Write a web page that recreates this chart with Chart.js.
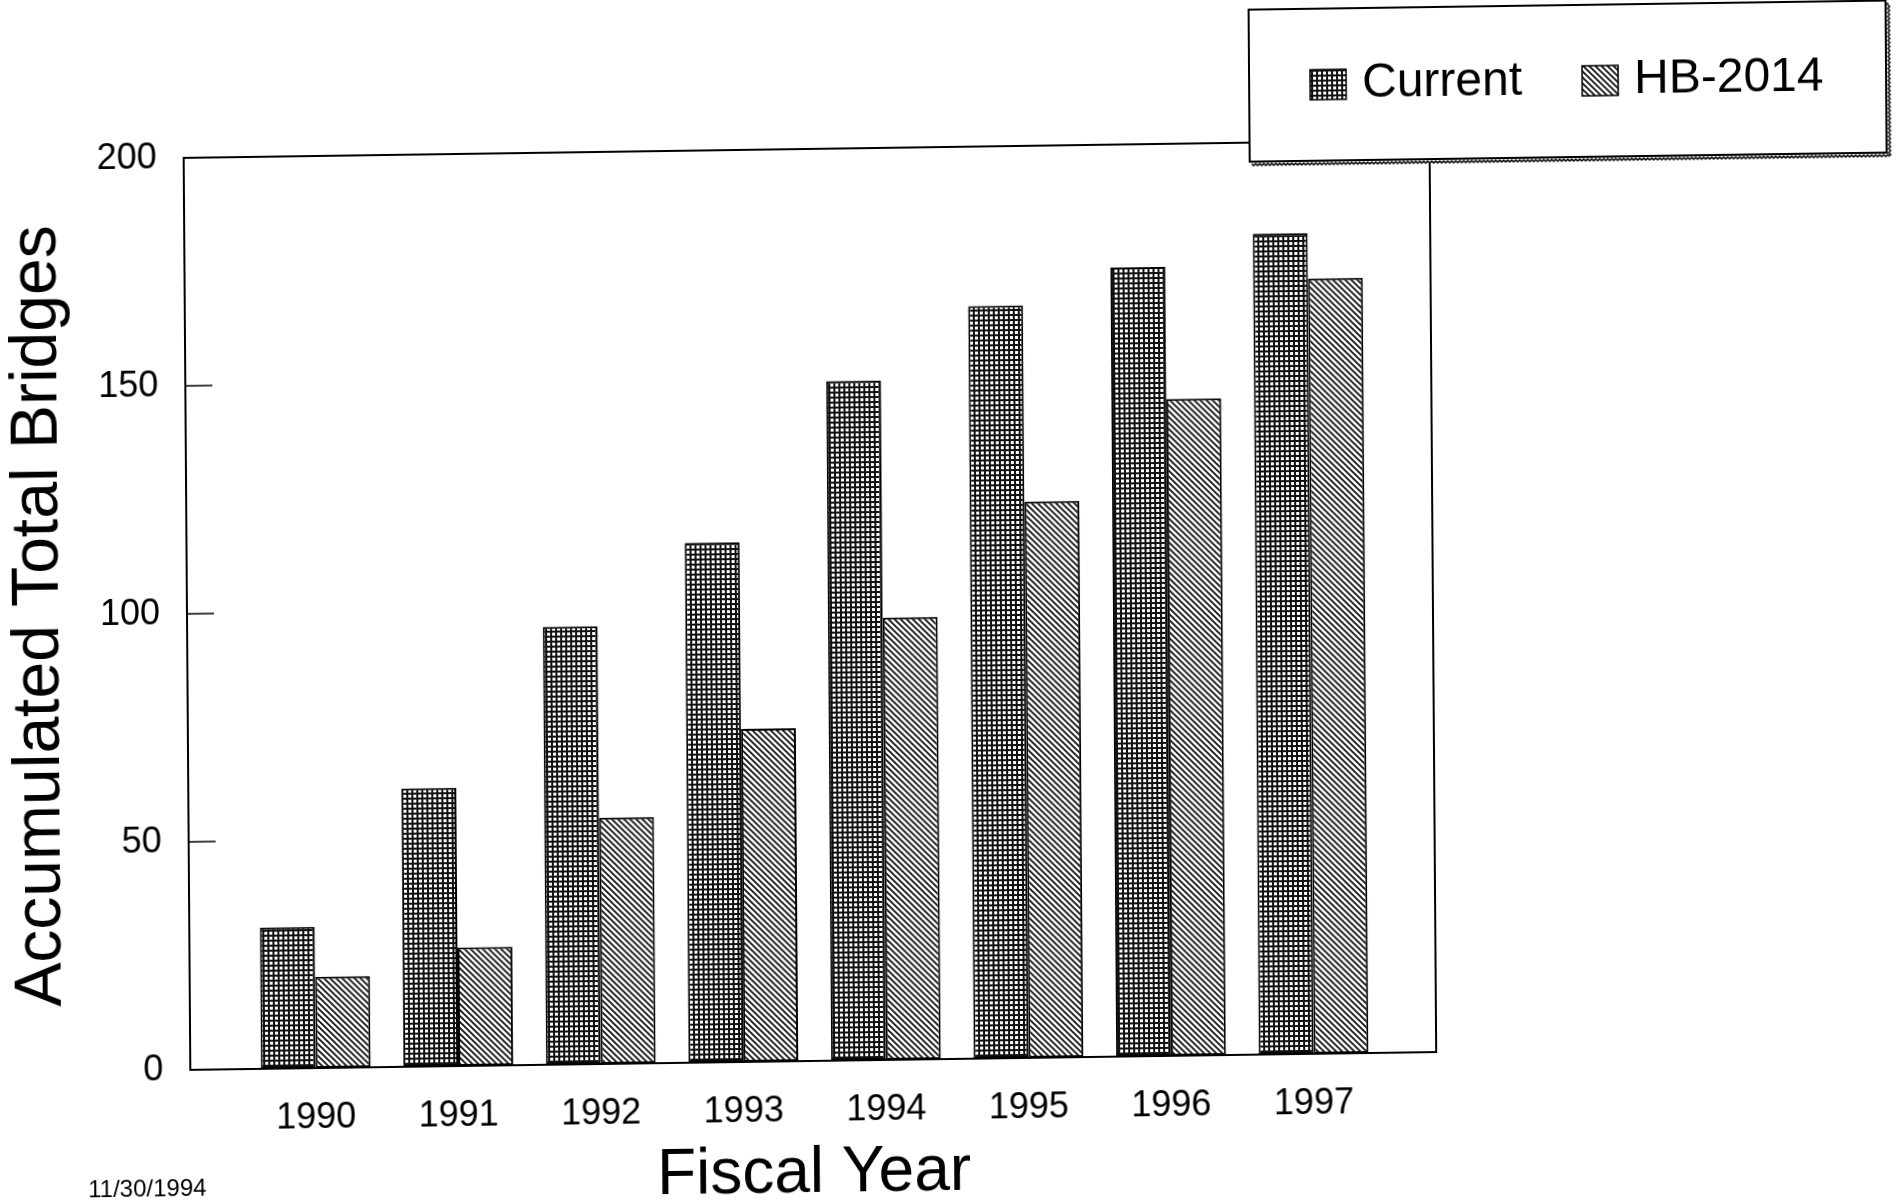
<!DOCTYPE html>
<html>
<head>
<meta charset="utf-8">
<title>Accumulated Total Bridges</title>
<script src="https://cdn.jsdelivr.net/npm/chart.js@4.4.1/dist/chart.umd.min.js"></script>
<style>
  html, body { margin: 0; padding: 0; background: #fff; overflow: hidden; }
  /* the scanned page is slightly skewed, so the whole sheet is too */
  #sheet {
    width: 1898px;
    height: 1204px;
    position: relative;
    transform: matrix(1, -0.0143, 0.0073, 1, 0, 0);
  }
</style>
</head>
<body>
<div id="sheet"><canvas id="chart"></canvas></div>
<script>
const years = ['1990', '1991', '1992', '1993', '1994', '1995', '1996', '1997'];
const current = [31, 61, 96, 114, 149, 165, 173, 180];
const hb2014 = [20, 26, 54, 73, 97, 122, 144, 170];
const yTicks = [0, 50, 100, 150, 200];
const seriesNames = ['Current', 'HB-2014'];
const dateStamp = '11/30/1994';

const FONT = "'Liberation Sans', Arial, Helvetica, sans-serif";
Chart.defaults.font.family = FONT;
Chart.defaults.color = '#000';

const canvas = document.getElementById('chart');
const ctx = canvas.getContext('2d');

// small square grid, like the "Current" fill
function gridPattern() {
  const c = document.createElement('canvas');
  c.width = 5; c.height = 5;
  const g = c.getContext('2d');
  g.fillStyle = '#fff';
  g.fillRect(0, 0, 5, 5);
  g.fillStyle = '#111';
  g.fillRect(0, 0, 5, 2);
  g.fillRect(0, 0, 2, 5);
  return ctx.createPattern(c, 'repeat');
}

// "\" hatching for HB-2014
function hatchPattern() {
  const s = 6;
  const c = document.createElement('canvas');
  c.width = s; c.height = s;
  const g = c.getContext('2d');
  g.fillStyle = '#fff';
  g.fillRect(0, 0, s, s);
  g.strokeStyle = '#111';
  g.lineWidth = 1.8;
  g.beginPath();
  g.moveTo(-1, -1); g.lineTo(s + 1, s + 1);
  g.moveTo(-1, s - 1); g.lineTo(1, s + 1);
  g.moveTo(s - 1, -1); g.lineTo(s + 1, 1);
  g.stroke();
  return ctx.createPattern(c, 'repeat');
}

const fills = [gridPattern(), hatchPattern()];

// plot frame + inward tick marks on the y axis
const framePlugin = {
  id: 'frame',
  afterDatasetsDraw(chart) {
    const { ctx, chartArea: a } = chart;
    const y = chart.scales.y;
    ctx.save();
    ctx.strokeStyle = '#000';
    ctx.lineWidth = 2;
    ctx.strokeRect(a.left, a.top, a.right - a.left, a.bottom - a.top);
    ctx.lineWidth = 1.5;
    ctx.beginPath();
    yTicks.forEach(v => {
      const py = y.getPixelForValue(v);
      ctx.moveTo(a.left, py);
      ctx.lineTo(a.left + 27, py);
    });
    ctx.stroke();
    ctx.restore();
  }
};

// boxed legend at the top right, with the ragged shadow edge, and the date stamp
const legendBox = { left: 1253, top: 14, right: 1890, bottom: 166 };

const legendPlugin = {
  id: 'boxLegend',
  afterDraw(chart) {
    const { ctx } = chart;
    const b = legendBox;
    ctx.save();
    ctx.fillStyle = '#fff';
    ctx.fillRect(b.left, b.top, b.right - b.left, b.bottom - b.top + 4);
    ctx.strokeStyle = '#000';
    ctx.lineWidth = 2;
    ctx.strokeRect(b.left, b.top, b.right - b.left, b.bottom - b.top);

    // zigzag shadow along bottom and right
    ctx.lineWidth = 1.5;
    ctx.beginPath();
    let up = true;
    ctx.moveTo(b.left + 2, b.bottom + 2);
    for (let x = b.left + 4; x <= b.right + 4; x += 2) {
      ctx.lineTo(x, b.bottom + (up ? 4 : 2));
      up = !up;
    }
    ctx.moveTo(b.right + 2, b.top + 2);
    for (let y = b.top + 4; y <= b.bottom + 4; y += 2) {
      ctx.lineTo(b.right + (up ? 4 : 2), y);
      up = !up;
    }
    ctx.stroke();

    ctx.font = '48px ' + FONT;
    ctx.textBaseline = 'middle';
    ctx.textAlign = 'left';
    const cy = 90;
    let x = 1314;
    chart.data.datasets.forEach((ds, i) => {
      ctx.fillStyle = ds.backgroundColor;
      ctx.fillRect(x, cy - 15, 36, 30);
      ctx.lineWidth = 1.5;
      ctx.strokeStyle = '#000';
      ctx.strokeRect(x, cy - 15, 36, 30);
      ctx.fillStyle = '#000';
      ctx.fillText(ds.label, x + 52, cy);
      x += 52 + ctx.measureText(ds.label).width + 60;
    });

    ctx.font = '24px ' + FONT;
    ctx.fillText(dateStamp, 84, 1178);
    ctx.restore();
  }
};

new Chart(canvas, {
  type: 'bar',
  data: {
    datasets: [
      {
        label: seriesNames[0],
        data: current.map((v, i) => ({ x: i, y: v })),
        backgroundColor: fills[0],
        borderColor: '#000',
        borderWidth: 2,
        borderSkipped: false
      },
      {
        label: seriesNames[1],
        data: hb2014.map((v, i) => ({ x: i, y: v })),
        backgroundColor: fills[1],
        borderColor: '#000',
        borderWidth: 2,
        borderSkipped: false
      }
    ]
  },
  options: {
    responsive: true,
    maintainAspectRatio: false,
    animation: false,
    layout: { padding: { top: 147, right: 465, bottom: 0, left: 0 } },
    datasets: { bar: { categoryPercentage: 0.77, barPercentage: 1 } },
    plugins: {
      legend: { display: false },
      tooltip: { enabled: false }
    },
    scales: {
      x: {
        type: 'linear',
        bounds: 'data',
        min: -0.88,
        max: 7.86,
        offset: false,
        grid: { display: false, drawTicks: false },
        border: { display: false },
        afterBuildTicks: s => { s.ticks = years.map((_, i) => ({ value: i })); },
        afterFit: s => { s.height = 145; },
        ticks: {
          autoSkip: false,
          maxRotation: 0,
          padding: 28,
          font: { size: 36 },
          color: '#000',
          callback: v => years[v]
        },
        title: {
          display: true,
          text: 'Fiscal Year',
          color: '#000',
          font: { size: 64, lineHeight: 1 },
          padding: { top: 0, bottom: 0 }
        }
      },
      y: {
        min: 0,
        max: 200,
        grid: { display: false, drawTicks: false },
        border: { display: false },
        afterFit: s => { s.width = 187; },
        ticks: {
          stepSize: 50,
          padding: 27,
          font: { size: 36 },
          color: '#000'
        },
        title: {
          display: true,
          text: 'Accumulated Total Bridges',
          color: '#000',
          font: { size: 66, lineHeight: 1 },
          padding: { top: 7, bottom: 0 }
        }
      }
    }
  },
  plugins: [framePlugin, legendPlugin]
});
</script>
</body>
</html>
